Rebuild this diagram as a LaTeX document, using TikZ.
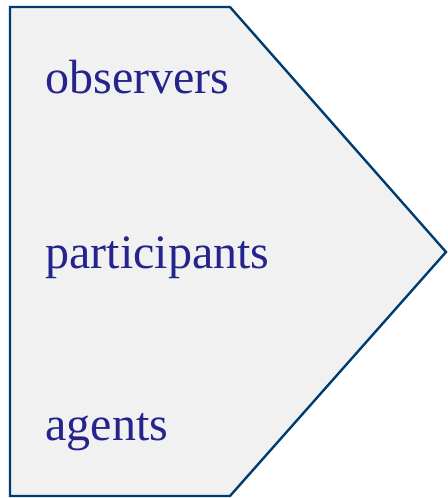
\documentclass[tikz,border=0pt]{standalone}
\usepackage{fontspec}
\setmainfont{Liberation Serif}
\usepackage{tikz}
\definecolor{edgeblue}{RGB}{0,60,112}
\definecolor{textblue}{RGB}{36,36,140}
\definecolor{boxgray}{RGB}{241,241,241}

\begin{document}
\begin{tikzpicture}[x=0.5pt,y=-0.5pt]
  \tikzset{role/.style={anchor=base west,inner sep=0pt,text=textblue,
      font=\fontsize{24}{28}\selectfont}}
  \useasboundingbox (0,0) rectangle (447,498);
  \coordinate (TL) at (10,7);
  \coordinate (TR) at (230,7);
  \coordinate (P) at (446,252);
  \coordinate (BR) at (230,496);
  \coordinate (BL) at (10,496);
  \draw[edgeblue,fill=boxgray,line width=1.2pt,line join=miter]
    (TL) -- (TR) -- (P) -- (BR) -- (BL) -- cycle;
  \node[role] (obs) at (45,93) {observers};
  \node[role] (par) at (45,268) {participants};
  \node[role] (age) at (45,440) {agents};
\end{tikzpicture}
\end{document}
